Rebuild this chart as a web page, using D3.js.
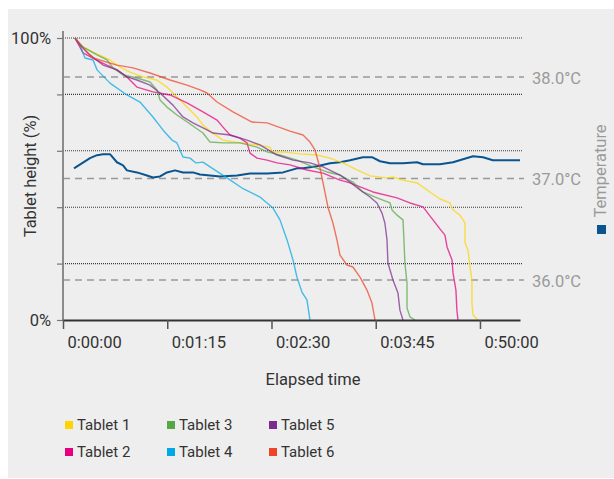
<!DOCTYPE html>
<html><head><meta charset="utf-8">
<script src="https://cdn.jsdelivr.net/npm/d3@7"></script>
<style>
html,body{margin:0;padding:0;background:#fff;}
svg{display:block;font-family:Roboto,"DejaVu Sans",sans-serif;}
</style></head>
<body><svg id="chart" width="614" height="479"></svg>
<script>
// ---- data ----
const xTickValues = [0, 75, 150, 225, 300];
const xTickLabels = ["0:00:00", "0:01:15", "0:02:30", "0:03:45", "0:50:00"];
const yTickValues = [0, 20, 40, 60, 80, 100];
const yTickLabels = {0: "0%", 100: "100%"};
const tempTicks = [36, 37, 38];
const tempLabels = ["36.0°C", "37.0°C", "38.0°C"];
const seriesNames = ["Tablet 1", "Tablet 2", "Tablet 3", "Tablet 4", "Tablet 5", "Tablet 6"];
const seriesColors = ["#ffd500", "#e6007e", "#55a845", "#00a8e6", "#7b2d8e", "#ef4427"];
const tempColor = "#0a5590";

// [seconds, height %]
const tablet1 = [[8.6,100],[12.2,97.5],[21.6,95.0],[33.8,92.2],[41.0,89.7],[48.2,87.9],[57.6,86.2],[67.6,85.1],[74.8,82.6],[82.0,79.1],[89.2,75.5],[96.4,72.0],[100.7,69.1],[105.8,67.0],[115.1,63.8],[127.3,62.8],[139.6,62.1],[149.0,61.3],[150.4,59.6],[158.3,59.6],[170.5,58.9],[182.7,58.5],[192.1,57.4],[201.4,55.7],[211.5,53.2],[220.9,51.1],[233.1,50.4],[237.4,50.7],[244.6,49.6],[254.7,48.6],[264.0,45.4],[271.2,42.9],[278.4,41.5],[280.6,39.0],[285.6,37.2],[289.2,34.4],[289.2,27.3],[291.4,24.8],[292.8,18.8],[294.2,14.2],[294.2,6.0],[295.0,1.8],[298.6,0]];
const tablet2 = [[8.6,100],[14.4,94.7],[26.6,91.5],[38.8,88.7],[46.0,86.2],[53.2,82.6],[64.7,80.9],[77.0,79.8],[89.2,77.0],[100.7,73.8],[110.8,70.9],[115.1,68.4],[120.1,65.6],[127.3,64.5],[132.4,62.8],[134.5,59.2],[139.6,57.4],[146.8,56.7],[154.0,55.7],[163.3,55.0],[175.5,53.2],[187.1,52.1],[199.3,49.6],[206.5,48.6],[223.0,45.4],[240.3,43.3],[249.6,41.5],[259.0,40.1],[266.2,35.5],[271.2,32.3],[274.8,30.1],[276.3,25.9],[279.9,21.3],[280.6,16.7],[282.7,10.6],[283.4,3.5],[284.2,0]];
const tablet3 = [[8.6,100],[14.4,96.8],[24.5,94.0],[31.7,92.2],[36.0,89.4],[43.2,86.9],[53.2,85.8],[62.6,84.4],[67.6,81.6],[69.8,78.0],[74.8,75.5],[82.0,72.7],[91.4,69.5],[100.7,66.3],[105.8,63.1],[115.1,62.8],[127.3,62.8],[139.6,61.3],[146.8,59.6],[156.1,58.5],[168.3,56.7],[179.9,54.3],[189.9,52.5],[199.3,51.4],[208.6,48.9],[215.8,45.4],[225.9,43.3],[235.3,41.5],[236.7,39.0],[240.3,37.2],[244.6,35.5],[245.3,28.4],[246.0,20.2],[247.5,13.1],[247.5,4.3],[249.6,1.1],[253.2,0]];
const tablet4 = [[8.6,100],[12.2,97.5],[15.8,92.9],[21.6,92.2],[24.5,88.7],[33.8,84.0],[46.0,79.8],[55.4,77.3],[64.7,72.0],[71.9,67.4],[78.4,63.8],[82.0,62.8],[86.3,57.8],[91.4,57.4],[95.7,55.7],[100.7,56.0],[105.8,54.3],[118.0,50.4],[128.8,46.8],[141.7,43.6],[151.1,39.7],[156.1,35.5],[161.2,28.4],[165.5,21.3],[168.3,15.2],[171.9,9.9],[175.5,7.1],[177.7,0]];
const tablet5 = [[8.6,100],[12.2,97.5],[19.4,94.0],[28.8,90.4],[38.8,88.7],[46.0,86.2],[53.2,85.1],[62.6,83.3],[69.8,80.5],[79.1,76.2],[86.3,72.0],[93.5,69.9],[103.6,67.4],[107.9,66.3],[120.1,65.6],[132.4,63.8],[141.7,62.1],[154.0,58.5],[165.5,56.7],[177.7,55.7],[187.1,54.3],[199.3,51.4],[206.5,48.9],[213.7,46.1],[220.9,43.6],[225.9,41.5],[229.5,37.9],[231.6,34.4],[233.1,28.4],[233.8,20.2],[237.4,14.2],[241.0,9.6],[242.4,3.5],[244.6,0]];
const tablet6 = [[8.6,100],[15.8,95.7],[21.6,92.9],[38.8,90.4],[50.4,89.4],[62.6,87.6],[77.0,85.1],[89.2,83.3],[98.6,81.6],[103.6,80.5],[110.8,77.3],[122.3,73.8],[136.0,70.2],[146.8,69.9],[163.3,67.0],[172.7,65.6],[177.7,63.1],[181.3,60.3],[184.9,53.9],[187.1,48.6],[190.6,40.1],[194.2,34.4],[197.1,28.4],[199.3,23.0],[204.3,19.5],[208.6,18.8],[213.7,15.2],[218.7,10.6],[222.3,6.0],[224.5,0]];
// [seconds, °C]
const temperature = [[7.9,37.10],[19.4,37.20],[24.5,37.23],[28.8,37.24],[33.8,37.24],[38.8,37.16],[43.2,37.13],[46.0,37.08],[53.2,37.06],[60.4,37.03],[64.7,37.01],[69.8,37.02],[74.8,37.06],[80.6,37.08],[86.3,37.06],[93.5,37.06],[98.6,37.04],[105.8,37.03],[112.9,37.02],[125.2,37.03],[134.5,37.05],[146.8,37.05],[158.3,37.06],[168.3,37.10],[172.7,37.10],[182.7,37.12],[192.1,37.15],[199.3,37.16],[206.5,37.18],[215.8,37.21],[222.3,37.21],[228.1,37.17],[235.3,37.15],[244.6,37.15],[254.7,37.16],[259.0,37.14],[271.2,37.14],[280.6,37.16],[287.8,37.19],[295.0,37.22],[302.2,37.21],[309.3,37.18],[319.4,37.18],[328.8,37.18]];
const tablets = [tablet1, tablet2, tablet3, tablet4, tablet5, tablet6];

// ---- drawing ----
const svg = d3.select("#chart");
svg.append("rect").attr("x", 8).attr("y", 9).attr("width", 606).attr("height", 469).attr("fill", "#eeeeee");

const x = d3.scaleLinear().domain([0, 328.8]).range([63, 520]);
const y = d3.scaleLinear().domain([0, 100]).range([320, 38]);
const yT = d3.scaleLinear().domain([36, 38]).range([280, 77]);

// dotted gridlines
svg.append("g").selectAll("line").data(yTickValues.filter(v => v > 0)).join("line")
  .attr("x1", 63).attr("x2", 522).attr("y1", d => y(d)).attr("y2", d => y(d))
  .attr("stroke", "#3a3a3a").attr("stroke-width", 1.1).attr("stroke-dasharray", "1,1");

// dashed temperature lines
svg.append("g").selectAll("line").data(tempTicks).join("line")
  .attr("x1", 63).attr("x2", 524).attr("y1", d => yT(d)).attr("y2", d => yT(d))
  .attr("stroke", "#999").attr("stroke-width", 1.5).attr("stroke-dasharray", "7,5");
svg.append("g").selectAll("text").data(tempTicks).join("text")
  .attr("x", 532).attr("y", d => yT(d) + 6.5)
  .attr("font-size", 16.5).attr("fill", "#9a9a9a")
  .text((d, i) => tempLabels[i]);

// y axis
const yAxis = d3.axisLeft(y).tickValues(yTickValues).tickSize(6).tickPadding(6)
  .tickFormat(d => yTickLabels[d] || "");
const gy = svg.append("g").attr("transform", "translate(63,0)").call(yAxis);
gy.select(".domain").remove();
gy.selectAll(".tick line").attr("stroke", "#777").attr("stroke-width", 1.2);
gy.selectAll(".tick text").attr("font-size", 16.5).attr("fill", "#333")
  .attr("font-family", "Roboto, sans-serif").attr("dy", "0.36em").attr("x", -12);
svg.append("line").attr("x1", 63).attr("x2", 63).attr("y1", 31).attr("y2", 321)
  .attr("stroke", "#808080").attr("stroke-width", 1.8);

// lines
const line = d3.line().x(d => x(d[0])).y(d => y(d[1]));
const tline = d3.line().x(d => x(d[0])).y(d => yT(d[1]));

svg.append("path").datum(temperature).attr("d", tline)
  .attr("fill", "none").attr("stroke", tempColor).attr("stroke-width", 2)
  .attr("stroke-linejoin", "round");

svg.append("g").selectAll("path").data(tablets).join("path")
  .attr("d", line).attr("fill", "none")
  .attr("stroke", (d, i) => seriesColors[i]).attr("stroke-opacity", 0.72)
  .attr("stroke-width", 1.4).attr("stroke-linejoin", "round");

// x axis
const xAxis = d3.axisBottom(x).tickValues(xTickValues).tickSize(9).tickSizeOuter(0)
  .tickFormat((d, i) => xTickLabels[i]);
const gx = svg.append("g").attr("transform", "translate(0,320)").call(xAxis);
gx.select(".domain").attr("stroke", "#333").attr("stroke-width", 2);
gx.selectAll(".tick line").attr("stroke", "#555").attr("stroke-width", 1.5);
gx.selectAll(".tick text").attr("font-size", 16.5).attr("fill", "#333")
  .attr("font-family", "Roboto, sans-serif")
  .attr("text-anchor", "start").attr("x", 4).attr("y", 28).attr("dy", 0);

// axis titles
svg.append("text").attr("x", 313).attr("y", 385).attr("text-anchor", "middle")
  .attr("font-size", 16.5).attr("fill", "#333").text("Elapsed time");
svg.append("text").attr("transform", "translate(36,176) rotate(-90)").attr("text-anchor", "middle")
  .attr("font-size", 16.5).attr("fill", "#333").text("Tablet height (%)");
svg.append("text").attr("transform", "translate(606,171) rotate(-90)").attr("text-anchor", "middle")
  .attr("font-size", 16.5).attr("fill", "#9a9a9a").text("Temperature");
svg.append("rect").attr("x", 597).attr("y", 225).attr("width", 9).attr("height", 9).attr("fill", tempColor);

// legend
const leg = svg.append("g").selectAll("g").data(seriesNames).join("g")
  .attr("transform", (d, i) => `translate(${65 + Math.floor(i / 2) * 102},${421 + (i % 2) * 27})`);
leg.append("rect").attr("width", 8).attr("height", 8).attr("fill", (d, i) => seriesColors[i]);
leg.append("text").attr("x", 12).attr("y", 8.5).attr("font-size", 15).attr("fill", "#333").text(d => d);
</script></body></html>
